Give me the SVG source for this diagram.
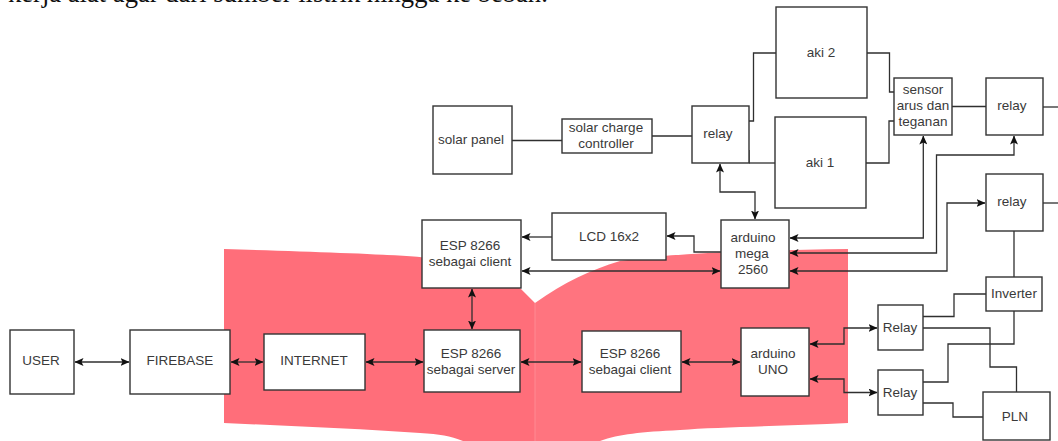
<svg xmlns="http://www.w3.org/2000/svg" width="1058" height="441" viewBox="0 0 1058 441">
<style>
.b{fill:#fff;stroke:#333;stroke-width:1.4}
text{font-family:"Liberation Sans",Arial,sans-serif;font-size:13.5px;fill:#3a3a3a;text-anchor:middle}
.c{fill:none;stroke:#2f2f2f;stroke-width:1.3}
.a{marker-end:url(#h)}
.d{marker-start:url(#h);marker-end:url(#h)}
</style>
<defs>
<marker id="h" viewBox="0 0 9 8" refX="8.500" refY="4" markerWidth="9" markerHeight="8" markerUnits="userSpaceOnUse" orient="auto-start-reverse">
<path d="M0 0L9 4L0 8L2 4Z" fill="#111"/>
</marker>
</defs>
<text id="page-text" x="8" y="2" style="font-family:'Liberation Serif','Times New Roman',serif;font-size:26.600px;fill:#111;text-anchor:start">kerja alat agar dari sumber listrik hingga ke beban.</text>
<g id="book">
<path fill="#ff6e7a" d="M224 249C320 252 390 254 430 258C470 265 500 277 521 289L535 303V441H463C450 436 440 434 420 433C360 429 290 426 224 423Z"/>
<path fill="#ff747f" d="M535 303C565 282 590 270 620 261C680 252 770 250 848 249V423C790 426 720 427 680 430C640 432 620 434 600 441H535Z"/>
<path d="M535 303V441" stroke="#ff8a93" stroke-width="1" fill="none"/>
</g>
<g id="connectors">
<path class="c" d="M512 140.500H562"/>
<path class="c" d="M652 136H692"/>
<path class="c" d="M749 121H753.500V53H776"/>
<path class="c" d="M749 163H775"/>
<path class="c" d="M749 150V163" stroke-width="2"/>
<path class="c" d="M867 53H889.500V92H894"/>
<path class="c" d="M866 163H889V121H894"/>
<path class="c" d="M952 106.500H986"/>
<path class="c" d="M1043 107H1058"/>
<path class="c" d="M1043 203H1058"/>
<path class="c d" d="M720 164V192H755V219"/>
<path class="c a" d="M721 252H694V236H667"/>
<path class="c a" d="M552 237H522"/>
<path class="c d" d="M522 271H720"/>
<path class="c d" d="M472 289V329"/>
<path class="c d" d="M75 362H129"/>
<path class="c d" d="M231 362H263"/>
<path class="c d" d="M366 362H423"/>
<path class="c d" d="M521 362H581"/>
<path class="c d" d="M682 362H740"/>
<path class="c d" d="M790 238H923.300V136"/>
<path class="c d" d="M790 253H936.500V155H1014V136"/>
<path class="c d" d="M790 271H947V203H985"/>
<path class="c d" d="M810 344H844V328H877"/>
<path class="c d" d="M810 379H844V392.500H877"/>
<path class="c" d="M1014 231V277"/>
<path class="c" d="M986 294H954V316.500H923"/>
<path class="c" d="M1014 311V344H948V382H923"/>
<path class="c" d="M923 328H990V367H1016.500V392"/>
<path class="c" d="M923 403H953V417H983"/>
</g>
<g id="solar-panel"><rect class="b" x="433" y="106" width="79" height="68"/><text x="471" y="144">solar panel</text></g>
<g id="charge-controller"><rect class="b" x="562" y="119" width="90" height="34"/><text x="606" y="132">solar charge</text><text x="606" y="148">controller</text></g>
<g id="relay-a"><rect class="b" x="692" y="106" width="57" height="57"/><text x="718" y="138">relay</text></g>
<g id="aki-2"><rect class="b" x="776" y="7" width="91" height="91"/><text x="821" y="57">aki 2</text></g>
<g id="aki-1"><rect class="b" x="775" y="117" width="91" height="91"/><text x="820" y="167">aki 1</text></g>
<g id="sensor"><rect class="b" x="894" y="78" width="58" height="57"/><text x="923" y="94">sensor</text><text x="923" y="110">arus dan</text><text x="923" y="126">teganan</text></g>
<g id="relay-b"><rect class="b" x="986" y="78" width="57" height="57"/><text x="1012" y="110">relay</text></g>
<g id="relay-c"><rect class="b" x="986" y="174" width="57" height="57"/><text x="1012" y="206">relay</text></g>
<g id="esp-client-a"><rect class="b" x="422" y="220" width="99" height="68"/><text x="470" y="250">ESP 8266</text><text x="470" y="266">sebagai client</text></g>
<g id="lcd"><rect class="b" x="552" y="213" width="114" height="47"/><text x="609" y="241">LCD 16x2</text></g>
<g id="mega"><rect class="b" x="721" y="220" width="68" height="68"/><text x="753" y="242">arduino</text><text x="752" y="258">mega</text><text x="753" y="274">2560</text></g>
<g id="user"><rect class="b" x="10" y="330" width="64" height="64"/><text x="41" y="365">USER</text></g>
<g id="firebase"><rect class="b" x="130" y="330" width="100" height="64"/><text x="180" y="365">FIREBASE</text></g>
<g id="internet"><rect class="b" x="264" y="334" width="101" height="56"/><text x="314" y="365">INTERNET</text></g>
<g id="esp-server"><rect class="b" x="424" y="330" width="96" height="62"/><text x="471" y="358">ESP 8266</text><text x="471" y="374">sebagai server</text></g>
<g id="esp-client-b"><rect class="b" x="582" y="331" width="99" height="61"/><text x="630" y="358">ESP 8266</text><text x="630" y="374">sebagai client</text></g>
<g id="uno"><rect class="b" x="741" y="328" width="68" height="68"/><text x="773" y="358">arduino</text><text x="773" y="374">UNO</text></g>
<g id="relay-d"><rect class="b" x="878" y="305" width="45" height="45"/><text x="900" y="332">Relay</text></g>
<g id="relay-e"><rect class="b" x="878" y="370" width="45" height="45"/><text x="900" y="397">Relay</text></g>
<g id="inverter"><rect class="b" x="986" y="277" width="56" height="34"/><text x="1014" y="298">Inverter</text></g>
<g id="pln"><rect class="b" x="983" y="392" width="67" height="48"/><text x="1015" y="421">PLN</text></g>
</svg>
